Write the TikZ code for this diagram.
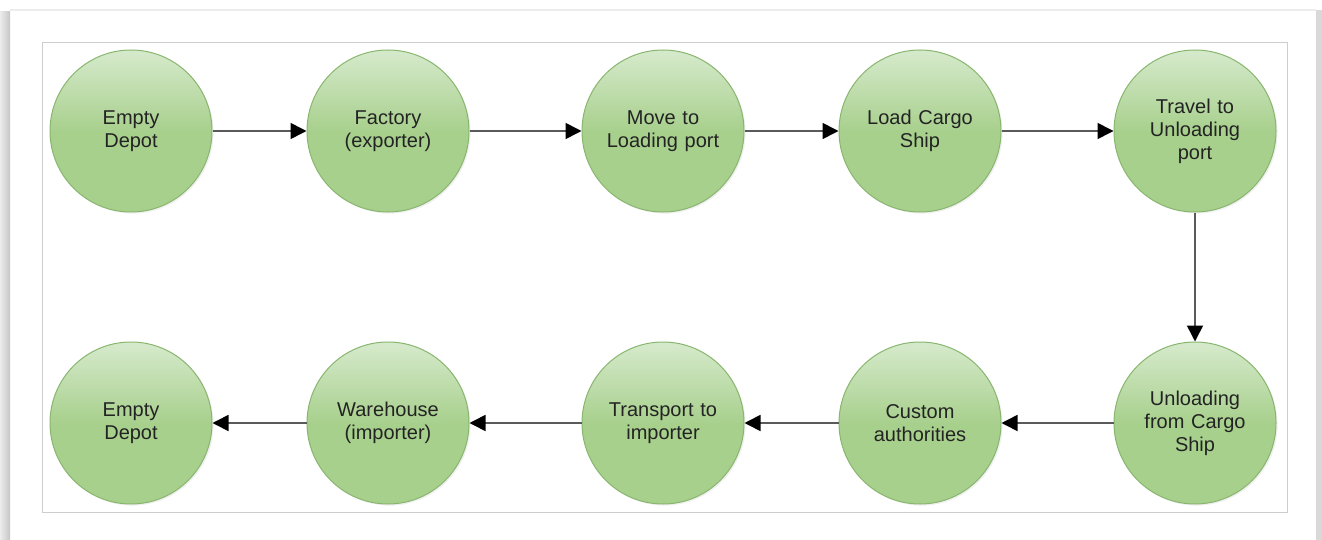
\documentclass[tikz,border=0pt]{standalone}
\usepackage{fontspec}
\setmainfont{Liberation Sans}
\usepackage{tikz}
\usetikzlibrary{arrows.meta, positioning, shadows}
\definecolor{stepgreen}{RGB}{168,208,141}
\definecolor{steplight}{RGB}{214,234,204}
\definecolor{stepedge}{RGB}{136,182,110}
\definecolor{mytext}{RGB}{35,35,35}
\definecolor{mylink}{RGB}{90,90,90}
\definecolor{mgframe}{RGB}{205,205,205}
\tikzset{
  stage/.style={circle, draw=stepedge, top color=steplight,
    bottom color=stepgreen, middle color=stepgreen,
    minimum size=81pt, inner sep=0pt, text width=62pt, align=center,
    font=\fontsize{10}{11.5}\selectfont, text=mytext, line width=0.5pt,
    drop shadow={shadow xshift=0.8pt, shadow yshift=-0.8pt, opacity=0.12}},
  arrow/.style={-{Triangle[length=8pt, width=8pt, color=black]},
    line width=0.8pt, color=mylink},
  frame/.style={draw=mgframe, line width=0.5pt}
}

\begin{document}
\begin{tikzpicture}[x=0.5pt, y=-0.5pt]
  \useasboundingbox (0,0) rectangle (1322,540);
  \fill[left color=gray!15, right color=gray!45] (0,12) rectangle (10,540);
  \draw[gray!15, line width=1pt] (10,10) -- (1316,10);
  \fill[gray!30] (1316,10) rectangle (1322,540);
  \draw[frame] (42,43) rectangle (1287,512);

  \node[stage] (depotA) at (131,131) {Empty\\Depot};
  \node[stage, right=47pt of depotA]   (factory)  {Factory\\(exporter)};
  \node[stage, right=56pt of factory]  (loadport) {Move to\\Loading port};
  \node[stage, right=47pt of loadport] (loadship) {Load Cargo\\Ship};
  \node[stage, right=56pt of loadship] (travel)   {Travel to\\Unloading\\port};
  \node[stage, below=64.5pt of travel]    (unload)    {Unloading\\from Cargo\\Ship};
  \node[stage, below=64.5pt of loadship]  (customs)   {Custom\\authorities};
  \node[stage, below=64.5pt of loadport]  (transport) {Transport to\\importer};
  \node[stage, below=64.5pt of factory]   (warehouse) {Warehouse\\(importer)};
  \node[stage, below=64.5pt of depotA]    (depotB)    {Empty\\Depot};

  \draw[arrow] (depotA) -- (factory);
  \draw[arrow] (factory) -- (loadport);
  \draw[arrow] (loadport) -- (loadship);
  \draw[arrow] (loadship) -- (travel);
  \draw[arrow] (travel) -- (unload);
  \draw[arrow] (unload) -- (customs);
  \draw[arrow] (customs) -- (transport);
  \draw[arrow] (transport) -- (warehouse);
  \draw[arrow] (warehouse) -- (depotB);
\end{tikzpicture}
\end{document}
